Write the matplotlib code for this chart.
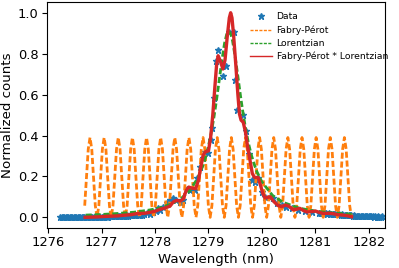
import numpy as np
import matplotlib
matplotlib.use("Agg")
import matplotlib.pyplot as plt

# measured spectrum: flat left wing (uniform 0.025 nm sampling)
left_x0 = 1276.225
left_y = [0.000, 0.001, 0.000, 0.001, 0.000, 0.000, 0.001, 0.000, 0.001, 0.000,
          0.001, 0.001, 0.000, 0.001, 0.002, 0.001, 0.000, 0.001, 0.002, 0.001,
          0.002, 0.001, 0.002, 0.003, 0.002, 0.001, 0.003, 0.002, 0.003, 0.004,
          0.003, 0.002, 0.004, 0.003, 0.005, 0.004, 0.003, 0.005, 0.006, 0.005,
          0.006, 0.005, 0.007, 0.006, 0.008, 0.007, 0.006, 0.008, 0.009, 0.008,
          0.010, 0.009, 0.011, 0.010, 0.012, 0.011, 0.013, 0.012, 0.014, 0.013,
          0.012]
# measured spectrum: around the line
mid_x = [1277.75, 1277.80, 1277.84, 1277.90, 1277.97, 1278.02, 1278.06, 1278.10,
         1278.15, 1278.22, 1278.28, 1278.34, 1278.40, 1278.47, 1278.53, 1278.59,
         1278.65, 1278.70, 1278.75, 1278.78, 1278.85, 1278.90, 1278.93, 1279.00,
         1279.04, 1279.07, 1279.10, 1279.14, 1279.18, 1279.27, 1279.32, 1279.39,
         1279.47, 1279.50, 1279.54, 1279.64, 1279.70, 1279.75, 1279.81, 1279.87,
         1279.93, 1280.00, 1280.06, 1280.15, 1280.21, 1280.28, 1280.37, 1280.46,
         1280.56, 1280.68, 1280.81, 1280.93, 1281.06]
mid_y = [0.011, 0.016, 0.020, 0.018, 0.027, 0.030, 0.044, 0.038,
         0.052, 0.071, 0.085, 0.093, 0.085, 0.076, 0.085, 0.140,
         0.133, 0.140, 0.133, 0.190, 0.247, 0.290, 0.320, 0.313,
         0.378, 0.435, 0.582, 0.764, 0.818, 0.690, 0.740, 0.907,
         0.907, 0.671, 0.524, 0.500, 0.420, 0.310, 0.182, 0.174,
         0.190, 0.125, 0.100, 0.100, 0.093, 0.068, 0.060, 0.052,
         0.044, 0.036, 0.032, 0.027, 0.022]
# measured spectrum: flat right wing (uniform 0.025 nm sampling)
right_x0 = 1281.10
right_y = [0.021, 0.020, 0.022, 0.019, 0.020, 0.018, 0.019, 0.017, 0.018, 0.016,
           0.017, 0.015, 0.016, 0.014, 0.015, 0.013, 0.014, 0.012, 0.013, 0.011,
           0.012, 0.010, 0.011, 0.010, 0.009, 0.010, 0.008, 0.009, 0.008, 0.007,
           0.008, 0.007, 0.006, 0.007, 0.006, 0.006, 0.005, 0.006, 0.005, 0.005,
           0.004, 0.005, 0.004, 0.005, 0.004, 0.004, 0.005]
data_step = 0.025

# Fabry-Perot fringes, sampled every 1/8 of a fringe period
fp_first = 1276.682
fp_step = 0.03308
fp_y = [0.057, 0.195, 0.333, 0.390, 0.333, 0.195, 0.057, 0.000,
        0.057, 0.195, 0.333, 0.390, 0.333, 0.195, 0.057, 0.000,
        0.057, 0.195, 0.333, 0.390, 0.333, 0.195, 0.057, 0.000,
        0.057, 0.195, 0.333, 0.390, 0.333, 0.195, 0.057, 0.000,
        0.057, 0.195, 0.333, 0.390, 0.333, 0.195, 0.057, 0.000,
        0.057, 0.195, 0.333, 0.390, 0.333, 0.195, 0.057, 0.000,
        0.057, 0.195, 0.333, 0.390, 0.333, 0.195, 0.057, 0.000,
        0.057, 0.195, 0.333, 0.390, 0.333, 0.195, 0.057, 0.000,
        0.057, 0.195, 0.333, 0.390, 0.333, 0.195, 0.057, 0.000,
        0.057, 0.195, 0.333, 0.390, 0.333, 0.195, 0.057, 0.000,
        0.057, 0.195, 0.333, 0.390, 0.333, 0.195, 0.057, 0.000,
        0.057, 0.195, 0.333, 0.390, 0.333, 0.195, 0.057, 0.000,
        0.057, 0.195, 0.333, 0.390, 0.333, 0.195, 0.057, 0.000,
        0.057, 0.195, 0.333, 0.390, 0.333, 0.195, 0.057, 0.000,
        0.057, 0.195, 0.333, 0.390, 0.333, 0.195, 0.057, 0.000,
        0.057, 0.195, 0.333, 0.390, 0.333, 0.195, 0.057, 0.000,
        0.057, 0.195, 0.333, 0.390, 0.333, 0.195, 0.057, 0.000,
        0.057, 0.195, 0.333, 0.390, 0.333, 0.195, 0.057, 0.000,
        0.057, 0.195, 0.333, 0.390, 0.333, 0.195, 0.057, 0.000]

# Lorentzian fit
lor_x = [1276.70, 1277.00, 1277.30, 1277.60, 1277.90, 1278.10, 1278.30, 1278.50,
         1278.65, 1278.80, 1278.90, 1278.95, 1279.00, 1279.05, 1279.10, 1279.15,
         1279.20, 1279.25, 1279.30, 1279.34, 1279.38, 1279.42, 1279.45, 1279.50,
         1279.55, 1279.60, 1279.65, 1279.70, 1279.75, 1279.80, 1279.85, 1279.90,
         1280.00, 1280.20, 1280.40, 1280.70, 1281.00, 1281.30, 1281.68]
lor_y = [0.011, 0.014, 0.019, 0.025, 0.036, 0.047, 0.065, 0.095,
         0.131, 0.192, 0.256, 0.298, 0.350, 0.412, 0.486, 0.573,
         0.669, 0.766, 0.850, 0.894, 0.910, 0.894, 0.863, 0.784,
         0.689, 0.592, 0.503, 0.426, 0.361, 0.307, 0.264, 0.227,
         0.173, 0.107, 0.073, 0.045, 0.030, 0.022, 0.015]

# Fabry-Perot * Lorentzian
fpl_x = [1276.69, 1276.90, 1277.10, 1277.30, 1277.40, 1277.55, 1277.65, 1277.80,
         1277.90, 1278.00, 1278.10, 1278.19, 1278.28, 1278.34, 1278.40, 1278.47,
         1278.53, 1278.58, 1278.63, 1278.70, 1278.76, 1278.81, 1278.86, 1278.90,
         1278.95, 1279.00, 1279.04, 1279.08, 1279.12, 1279.15, 1279.18, 1279.22,
         1279.27, 1279.31, 1279.35, 1279.39, 1279.415, 1279.44, 1279.47, 1279.51,
         1279.55, 1279.58, 1279.61, 1279.65, 1279.69, 1279.73, 1279.78, 1279.82,
         1279.86, 1279.93, 1279.97, 1280.02, 1280.06, 1280.11, 1280.16, 1280.22,
         1280.30, 1280.37, 1280.44, 1280.50, 1280.58, 1280.65, 1280.71, 1280.78,
         1280.85, 1280.93, 1281.00, 1281.08, 1281.15, 1281.25, 1281.33, 1281.42,
         1281.52, 1281.60, 1281.68]
fpl_y = [0.000, 0.002, 0.005, 0.007, 0.010, 0.013, 0.018, 0.020,
         0.024, 0.030, 0.040, 0.046, 0.055, 0.075, 0.083, 0.080,
         0.090, 0.130, 0.148, 0.142, 0.140, 0.180, 0.250, 0.305,
         0.322, 0.325, 0.390, 0.500, 0.640, 0.740, 0.790, 0.765,
         0.725, 0.770, 0.880, 0.975, 1.000, 0.975, 0.890, 0.750,
         0.600, 0.505, 0.475, 0.465, 0.420, 0.350, 0.275, 0.215,
         0.195, 0.195, 0.160, 0.115, 0.095, 0.098, 0.100, 0.078,
         0.058, 0.052, 0.060, 0.055, 0.038, 0.040, 0.044, 0.033,
         0.026, 0.028, 0.031, 0.024, 0.019, 0.020, 0.018, 0.013,
         0.011, 0.008, 0.003]

x_ticks = [1276, 1277, 1278, 1279, 1280, 1281, 1282]
y_ticks = [0.0, 0.2, 0.4, 0.6, 0.8, 1.0]

left_x = left_x0 + data_step * np.arange(len(left_y))
right_x = right_x0 + data_step * np.arange(len(right_y))
data_x = np.concatenate([left_x, mid_x, right_x])
data_y = np.concatenate([left_y, mid_y, right_y])
fp_x = fp_first + fp_step * np.arange(len(fp_y))

short_dash = (0, (2.2, 1.0))

fig = plt.figure(figsize=(3.99, 2.68), dpi=100)
ax = fig.add_axes([0.1178, 0.1493, 0.8471, 0.8444])

ax.plot(data_x, data_y, '*', color='C0', ms=5, label='Data')
ax.plot(fp_x, fp_y, ls=short_dash, color='C1', lw=2.0, label='Fabry-Pérot')
ax.plot(lor_x, lor_y, ls=short_dash, color='C2', lw=2.0, label='Lorentzian')
ax.plot(fpl_x, fpl_y, '-', color='C3', lw=2.4, label='Fabry-Pérot * Lorentzian')

ax.set_xlim(1275.976, 1282.305)
ax.set_ylim(-0.052, 1.054)
ax.set_xticks(x_ticks)
ax.set_yticks(y_ticks)
ax.tick_params(labelsize=9.4, pad=2.5)
ax.set_xlabel('Wavelength (nm)', fontsize=9.6, labelpad=3)
ax.set_ylabel('Normalized counts', fontsize=9.6, labelpad=3)

leg = ax.legend(loc='upper left', bbox_to_anchor=(0.6266, 0.9535),
                bbox_transform=fig.transFigure, frameon=False, fontsize=6.7,
                borderpad=0, borderaxespad=0, handlelength=2.4,
                handletextpad=0.45, labelspacing=0.42)
for line in leg.get_lines():
    line.set_linewidth(1.0)

fig.savefig('out.png', dpi=100)
